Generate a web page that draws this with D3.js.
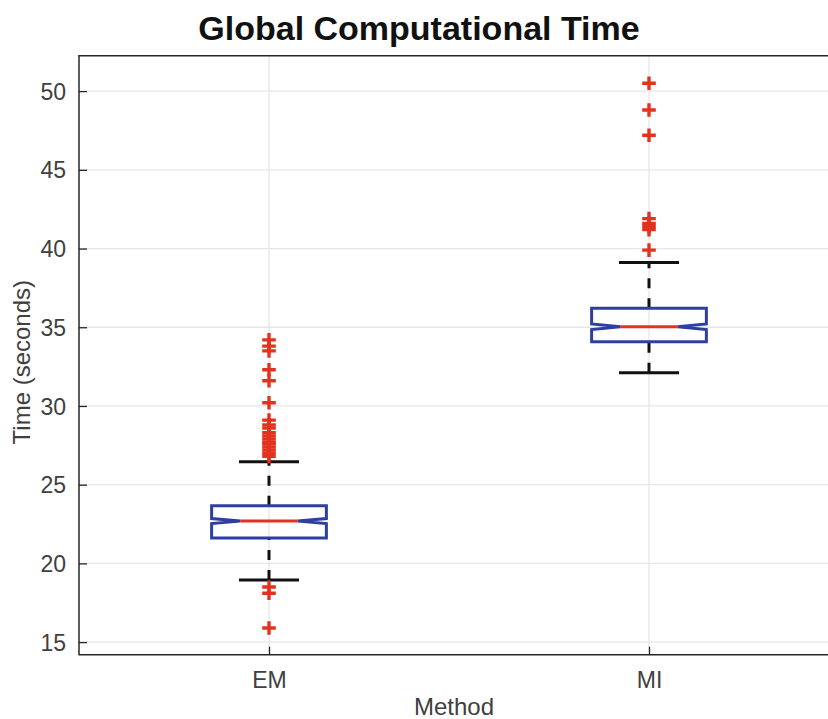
<!DOCTYPE html>
<html>
<head>
<meta charset="utf-8">
<script src="https://cdn.jsdelivr.net/npm/d3@7"></script>
<style>
  html, body { margin: 0; padding: 0; background: #ffffff; }
  svg { display: block; }
  text { font-family: "Liberation Sans", Arial, Helvetica, sans-serif; }
</style>
</head>
<body>
<svg id="chart" width="828" height="719"></svg>
<script>
// ---- data ----
const categories = ["EM", "MI"];
const q1Values = [21.62, 34.08];
const medianValues = [22.69, 35.03];
const q3Values = [23.66, 36.20];
const whiskerLow = [18.94, 32.11];
const whiskerHigh = [26.45, 39.12];
const notchLow = [22.53, 34.85];
const notchHigh = [22.85, 35.21];
const outliersEM = [34.2, 33.8, 33.5, 32.3, 31.6, 30.2, 29.1, 28.8, 28.6, 28.3, 28.1, 27.9, 27.7, 27.6, 27.4, 27.2, 27.0, 26.8, 18.5, 18.1, 15.9];
const outliersMI = [50.5, 48.8, 47.2, 41.9, 41.6, 41.4, 41.2, 39.9];
const yTickValues = [15, 20, 25, 30, 35, 40, 45, 50];
const titleText = "Global Computational Time";
const xLabelText = "Method";
const yLabelText = "Time (seconds)";

const outliers = [outliersEM, outliersMI];

// ---- layout ----
const mLeft = 79, mRight = 839, mTop = 55.7, mBottom = 654.7;
const svg = d3.select("#chart");

const x = d3.scaleLinear().domain([0.5, 2.5]).range([mLeft, mRight]);
const y = d3.scaleLinear().domain([14.2, 52.25]).range([mBottom, mTop]);

const boxW = 0.302, capHalf = 0.079, notchInner = 0.151;

const axisColor = "#262626";
const textColor = "#404040";
const gridColor = "#e6e6e6";
const blue = "#2f3fa0";
const red = "#e3321f";

// grid
const g = svg.append("g");
g.selectAll(".hgrid").data(yTickValues).enter().append("line")
  .attr("x1", mLeft).attr("x2", mRight)
  .attr("y1", d => y(d)).attr("y2", d => y(d))
  .attr("stroke", gridColor).attr("stroke-width", 1.3);
g.selectAll(".vgrid").data(categories).enter().append("line")
  .attr("x1", (d, i) => x(i + 1)).attr("x2", (d, i) => x(i + 1))
  .attr("y1", mTop).attr("y2", mBottom)
  .attr("stroke", gridColor).attr("stroke-width", 1.3);

// axes
const yAxis = d3.axisLeft(y).tickValues(yTickValues).tickSize(-8).tickPadding(13).tickFormat(d3.format("d"));
const yg = svg.append("g").attr("transform", `translate(${mLeft},0)`).call(yAxis);
yg.select(".domain").remove();
yg.selectAll(".tick line").attr("stroke", axisColor).attr("stroke-width", 1.3);
yg.selectAll(".tick text").attr("fill", textColor).style("font-size", "23px")
  .attr("x", -13).attr("dy", "0.35em");

const xAxis = d3.axisBottom(x).tickValues([1, 2]).tickSize(-8).tickPadding(18).tickFormat((d) => categories[d - 1]);
const xg = svg.append("g").attr("transform", `translate(0,${mBottom})`).call(xAxis);
xg.select(".domain").remove();
xg.selectAll(".tick line").attr("stroke", axisColor).attr("stroke-width", 1.3);
xg.selectAll(".tick text").attr("fill", textColor).style("font-size", "23px")
  .attr("y", 17).attr("dy", "0.71em");

// frame
svg.append("path")
  .attr("d", `M${mRight},${mTop}H${mLeft}V${mBottom}H${mRight}`)
  .attr("fill", "none").attr("stroke", axisColor).attr("stroke-width", 1.5);

// boxes
categories.forEach((c, i) => {
  const cx = i + 1;
  const grp = svg.append("g");
  // whiskers, drawn in direction of increasing value
  grp.append("line")
    .attr("x1", x(cx)).attr("x2", x(cx))
    .attr("y1", y(whiskerLow[i])).attr("y2", y(q1Values[i]))
    .attr("stroke", "#111").attr("stroke-width", 3).attr("stroke-dasharray", "10,10");
  grp.append("line")
    .attr("x1", x(cx)).attr("x2", x(cx))
    .attr("y1", y(q3Values[i])).attr("y2", y(whiskerHigh[i]))
    .attr("stroke", "#111").attr("stroke-width", 3).attr("stroke-dasharray", "10,10");
  // caps
  [whiskerLow[i], whiskerHigh[i]].forEach(v => {
    grp.append("line")
      .attr("x1", x(cx - capHalf)).attr("x2", x(cx + capHalf))
      .attr("y1", y(v)).attr("y2", y(v))
      .attr("stroke", "#111").attr("stroke-width", 3);
  });
  // notched box
  const L = x(cx - boxW / 2), R = x(cx + boxW / 2);
  const iL = x(cx - notchInner / 2), iR = x(cx + notchInner / 2);
  const path = d3.path();
  path.moveTo(L, y(q3Values[i]));
  path.lineTo(R, y(q3Values[i]));
  path.lineTo(R, y(notchHigh[i]));
  path.lineTo(iR, y(medianValues[i]));
  path.lineTo(R, y(notchLow[i]));
  path.lineTo(R, y(q1Values[i]));
  path.lineTo(L, y(q1Values[i]));
  path.lineTo(L, y(notchLow[i]));
  path.lineTo(iL, y(medianValues[i]));
  path.lineTo(L, y(notchHigh[i]));
  path.closePath();
  grp.append("path").attr("d", path.toString())
    .attr("fill", "none").attr("stroke", blue).attr("stroke-width", 3).attr("stroke-linejoin", "miter");
  // median
  grp.append("line")
    .attr("x1", iL).attr("x2", iR)
    .attr("y1", y(medianValues[i])).attr("y2", y(medianValues[i]))
    .attr("stroke", red).attr("stroke-width", 3);
  // outliers
  const s = 6.8;
  grp.selectAll(".out").data(outliers[i]).enter().append("path")
    .attr("d", d => `M${x(cx) - s},${y(d)}H${x(cx) + s}M${x(cx)},${y(d) - s}V${y(d) + s}`)
    .attr("stroke", red).attr("stroke-width", 3.4).attr("fill", "none");
});

// title and labels
svg.append("text").attr("x", 419).attr("y", 40).attr("text-anchor", "middle")
  .style("font-size", "34px").style("font-weight", "bold").attr("fill", "#111")
  .text(titleText);
svg.append("text").attr("x", 454).attr("y", 715).attr("text-anchor", "middle")
  .style("font-size", "24px").attr("fill", textColor).text(xLabelText);
svg.append("text").attr("transform", `translate(30,${(mTop + mBottom) / 2 + 7}) rotate(-90)`)
  .attr("text-anchor", "middle").style("font-size", "24px").attr("fill", textColor).text(yLabelText);
</script>
</body>
</html>
